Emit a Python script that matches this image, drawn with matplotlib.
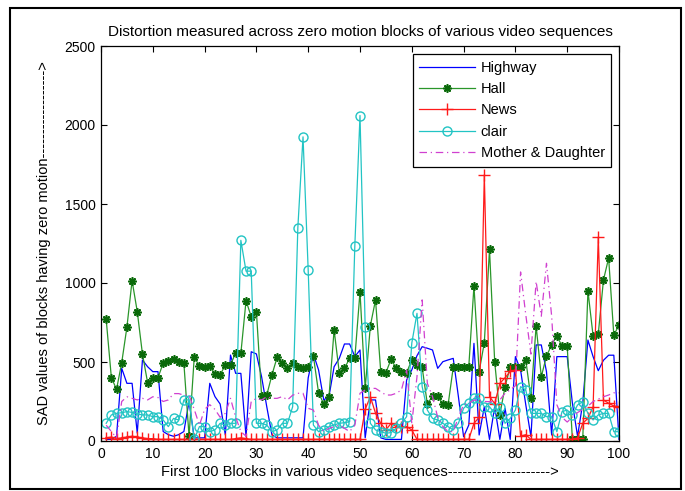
import matplotlib
matplotlib.use("Agg")
import matplotlib.pyplot as plt
from matplotlib.patches import Rectangle
import numpy as np

plt.rcParams['font.family'] = ['Liberation Sans', 'DejaVu Sans']

blocks = list(range(1, 101))

highway = [10, 10, 30, 460, 365, 365, 50, 513, 470, 439,
           439, 60, 40, 30, 40, 60, 250, 20, 20, 20,
           365, 281, 234, 38, 544, 428, 428, 27, 565, 551,
           407, 217, 38, 20, 20, 20, 20, 20, 20, 400,
           550, 450, 260, 280, 470, 523, 614, 614, 534, 576,
           20, 260, 260, 20, 10, 10, 10, 10, 386, 450,
           540, 597, 587, 576, 460, 502, 513, 523, 280, 27,
           101, 618, 38, 217, 10, 217, 10, 207, 10, 534,
           449, 230, 27, 608, 608, 439, 38, 534, 534, 534,
           240, 30, 240, 639, 534, 445, 511, 543, 543, 10]

hall = [770, 401, 327, 496, 720, 1015, 819, 551, 369, 397,
        401, 492, 506, 517, 502, 492, 30, 530, 475, 470,
        475, 424, 418, 481, 481, 559, 555, 888, 787, 819,
        287, 291, 418, 530, 492, 460, 492, 470, 460, 470,
        538, 306, 234, 276, 703, 433, 460, 523, 523, 945,
        333, 730, 893, 439, 433, 517, 460, 439, 433, 513,
        480, 466, 234, 285, 285, 234, 228, 466, 470, 470,
        470, 981, 439, 622, 1213, 502, 167, 344, 470, 470,
        470, 513, 270, 728, 407, 538, 608, 665, 601, 601,
        10, 10, 10, 951, 665, 678, 1019, 1158, 670, 734]

news = [20, 25, 15, 20, 25, 30, 25, 20, 15, 15,
        10, 10, 10, 10, 10, 10, 10, 10, 10, 10,
        10, 10, 10, 10, 10, 15, 20, 15, 10, 10,
        10, 10, 10, 10, 10, 10, 10, 10, 10, 10,
        10, 10, 10, 10, 10, 10, 10, 10, 10, 10,
        200, 281, 175, 112, 70, 112, 91, 91, 91, 70,
        10, 10, 10, 10, 10, 10, 10, 10, 10, 10,
        10, 112, 150, 1684, 281, 237, 365, 400, 440, 450,
        30, 40, 10, 10, 10, 10, 10, 10, 10, 10,
        10, 20, 112, 143, 217, 1290, 259, 239, 222, 217]

clair = [112, 165, 175, 179, 186, 181, 171, 165, 165, 154,
         154, 133, 91, 143, 133, 260, 260, 10, 91, 91,
         59, 70, 112, 101, 112, 112, 1270, 1075, 1075, 112,
         112, 101, 59, 70, 112, 112, 217, 1350, 1925, 1080,
         101, 59, 70, 91, 101, 112, 116, 122, 1235, 2060,
         720, 112, 70, 59, 49, 53, 80, 112, 154, 620,
         808, 344, 196, 143, 133, 112, 91, 70, 112, 207,
         238, 270, 270, 217, 217, 175, 217, 112, 143, 196,
         344, 323, 175, 175, 175, 154, 154, 59, 186, 196,
         165, 228, 249, 175, 133, 165, 175, 175, 59, 59]

mother_daughter = [100, 60, 20, 250, 280, 270, 260, 270, 260, 280,
                   275, 250, 260, 300, 300, 290, 290, 200, 100, 200,
                   230, 200, 150, 175, 270, 150, 60, 30, 250, 270,
                   260, 280, 270, 270, 281, 260, 290, 302, 302, 207,
                   196, 100, 60, 80, 90, 100, 80, 60, 100, 302,
                   323, 333, 333, 312, 291, 291, 302, 323, 449, 112,
                   407, 893, 365, 281, 150, 91, 60, 60, 150, 230,
                   238, 260, 250, 250, 249, 249, 260, 302, 323, 350,
                   1070, 800, 550, 1010, 790, 1125, 790, 230, 150, 120,
                   150, 180, 200, 220, 250, 265, 280, 291, 305, 305]

labels = ["Highway", "Hall", "News", "clair", "Mother & Daughter"]
x_ticks = list(range(0, 101, 10))
y_ticks = list(range(0, 2501, 500))

fig = plt.figure(figsize=(6.85, 4.91), dpi=100)
ax = fig.add_axes([101/685, 1-441/491, 518/685, 395/491])

lw = 0.9
ax.plot(blocks, highway, color='#0000ff', lw=lw, label=labels[0])
ax.plot(blocks, hall, color='#2a962a', lw=lw, marker=(8, 2, 0), markersize=6,
        markeredgecolor='#0a6a0a', markeredgewidth=1.2, label=labels[1])
ax.plot(blocks, news, color='#ff1a1a', lw=lw, marker='+', markersize=8,
        markeredgewidth=1.0, label=labels[2])
ax.plot(blocks, clair, color='#22c4c4', lw=lw, marker='o', markersize=6.5,
        markerfacecolor='none', markeredgecolor='#22c4c4', markeredgewidth=1.0,
        label=labels[3])
ax.plot(blocks, mother_daughter, color='#d040d0', lw=lw, linestyle=(0, (6, 3, 1, 3)),
        label=labels[4])

ax.set_xlim(0, 100)
ax.set_ylim(0, 2500)
ax.set_xticks(x_ticks)
ax.set_yticks(y_ticks)
ax.tick_params(direction='in', top=True, right=True, length=4, width=0.8,
               labelsize=10, pad=4)
for s in ax.spines.values():
    s.set_linewidth(0.9)

ax.set_title("Distortion measured across zero motion blocks of various video sequences",
             fontsize=11, pad=7)
ax.set_xlabel("First 100 Blocks in various video sequences--------------------->",
              fontsize=10.5, labelpad=3)
ax.set_ylabel("SAD values of blocks having zero motion------------------>",
              fontsize=10.5)
ax.yaxis.set_label_coords(-0.097, 0.5)

leg = ax.legend(loc='upper right', bbox_to_anchor=(0.985, 0.979), borderaxespad=0,
                fontsize=10.5, handlelength=3.8, numpoints=1, fancybox=False,
                framealpha=1, edgecolor='black', labelspacing=0.5,
                borderpad=0.45, handletextpad=0.4)
leg.get_frame().set_linewidth(0.9)

fig.add_artist(Rectangle((10/685, 2/491), 671/685, 481/491, transform=fig.transFigure,
                         fill=False, edgecolor='black', lw=1.5))

fig.savefig("out.png", dpi=100)
